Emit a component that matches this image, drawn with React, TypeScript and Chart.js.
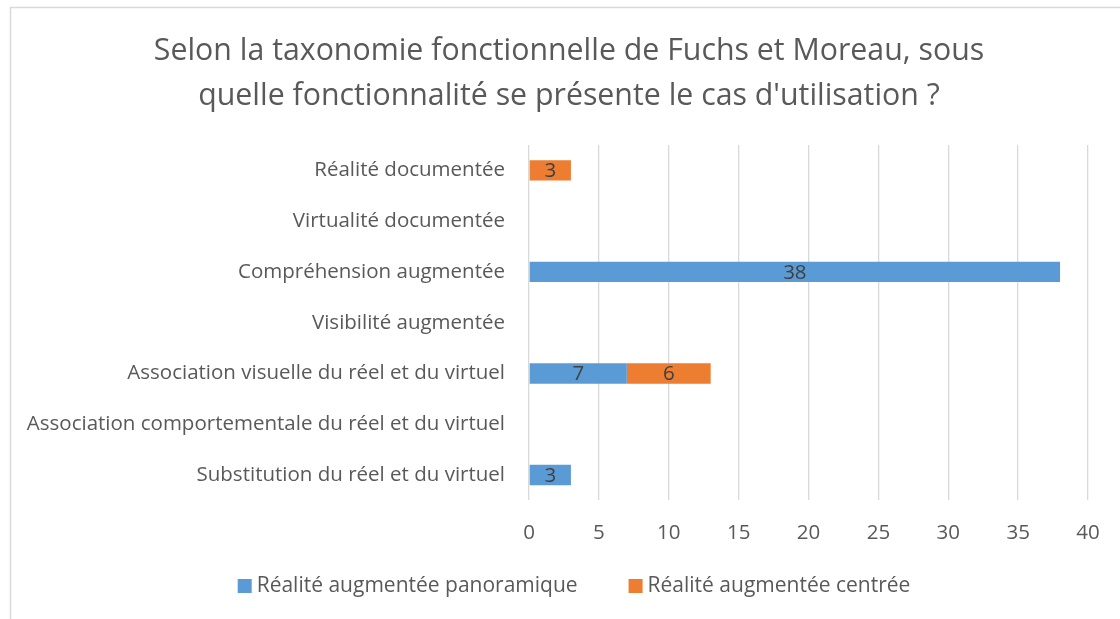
import React, { useEffect, useRef } from "react";
import { Chart, registerables } from "chart.js";

Chart.register(...registerables);

const categories = [
  "Réalité documentée",
  "Virtualité documentée",
  "Compréhension augmentée",
  "Visibilité augmentée",
  "Association visuelle du réel et du virtuel",
  "Association comportementale du réel et du virtuel",
  "Substitution du réel et du virtuel",
];
const panoramique = [0, 0, 38, 0, 7, 0, 3];
const centree = [3, 0, 0, 0, 6, 0, 0];
const seriesNames = ["Réalité augmentée panoramique", "Réalité augmentée centrée"];
const seriesColors = ["#5B9BD5", "#ED7D31"];
const titleLines = [
  "Selon la taxonomie fonctionnelle de Fuchs et Moreau, sous",
  "quelle fonctionnalité se présente le cas d'utilisation ?",
];
const xMin = 0;
const xMax = 40;
const xStep = 5;

const FONT = "'Open Sans', sans-serif";
const TEXT = "#595959";
const AXIS_SIZE = 20.5;
const LEGEND_SIZE = 21;

const framePlugin = {
  id: "frame",
  beforeDraw(chart: any) {
    const ctx = chart.ctx;
    ctx.save();
    ctx.fillStyle = "#ffffff";
    ctx.fillRect(0, 0, chart.width, chart.height);
    ctx.strokeStyle = "#d9d9d9";
    ctx.lineWidth = 1.5;
    ctx.strokeRect(10.5, 7.5, chart.width + 50, chart.height + 50);
    ctx.restore();
  },
};

const valueLabels = {
  id: "valueLabels",
  afterDatasetsDraw(chart: any) {
    const ctx = chart.ctx;
    chart.data.datasets.forEach((ds: any, i: number) => {
      const meta = chart.getDatasetMeta(i);
      meta.data.forEach((bar: any, j: number) => {
        const v = ds.data[j];
        if (!v) return;
        const p = bar.getProps(["x", "y", "base"], true);
        ctx.save();
        ctx.fillStyle = "#404040";
        ctx.font = `${AXIS_SIZE}px ${FONT}`;
        ctx.textAlign = "center";
        ctx.textBaseline = "middle";
        ctx.fillText(String(v), (p.x + p.base) / 2, p.y + 1);
        ctx.restore();
      });
    });
  },
};

const customLegend = {
  id: "customLegend",
  afterDraw(chart: any) {
    const ctx = chart.ctx;
    ctx.save();
    ctx.font = `${LEGEND_SIZE}px ${FONT}`;
    const box = 14;
    const gapText = 5;
    const gapItems = 51;
    const widths = seriesNames.map((n) => box + gapText + ctx.measureText(n).width);
    const total = widths.reduce((a, b) => a + b, 0) + gapItems * (widths.length - 1);
    let x = 574 - total / 2;
    const y = 586;
    seriesNames.forEach((n, i) => {
      ctx.fillStyle = seriesColors[i];
      ctx.fillRect(x, y - box / 2, box, box);
      ctx.fillStyle = TEXT;
      ctx.textAlign = "left";
      ctx.textBaseline = "middle";
      ctx.fillText(n, x + box + gapText, y);
      x += widths[i] + gapItems;
    });
    ctx.restore();
  },
};

export default function App() {
  const ref = useRef<HTMLCanvasElement | null>(null);
  useEffect(() => {
    document.body.style.margin = "0";
    if (!ref.current) return;
    const chart = new Chart(ref.current, {
      type: "bar",
      data: {
        labels: categories,
        datasets: [
          {
            label: seriesNames[0],
            data: panoramique,
            backgroundColor: seriesColors[0],
            barPercentage: 0.4,
            categoryPercentage: 1,
          },
          {
            label: seriesNames[1],
            data: centree,
            backgroundColor: seriesColors[1],
            barPercentage: 0.4,
            categoryPercentage: 1,
          },
        ],
      },
      options: {
        indexAxis: "y",
        animation: false,
        responsive: false,
        layout: { padding: { left: 18, right: 0, top: 0, bottom: 54 } },
        plugins: {
          legend: { display: false },
          tooltip: { enabled: false },
          title: {
            display: true,
            text: titleLines,
            color: TEXT,
            font: { family: FONT, size: 30.3, weight: "normal", lineHeight: "45px" },
            padding: { top: 29, bottom: 26 },
          },
        },
        scales: {
          x: {
            stacked: true,
            min: xMin,
            max: xMax,
            ticks: { stepSize: xStep, color: TEXT, font: { family: FONT, size: AXIS_SIZE }, padding: 20 },
            grid: { color: "#d9d9d9", lineWidth: 1.3, drawTicks: false },
            border: { display: false },
          },
          y: {
            stacked: true,
            ticks: { color: TEXT, font: { family: FONT, size: AXIS_SIZE }, padding: 24 },
            grid: { display: false, drawTicks: false },
            border: { display: false },
            afterFit(scale: any) {
              scale.width = 511;
            },
          },
          yRight: {
            type: "linear",
            position: "right",
            display: true,
            ticks: { display: false },
            grid: { display: false, drawTicks: false },
            border: { display: false },
            afterFit(scale: any) {
              scale.width = 32;
            },
          },
        },
      },
      plugins: [framePlugin, valueLabels, customLegend],
    } as any);
    return () => chart.destroy();
  }, []);
  return (
    <div style={{ position: "absolute", left: 0, top: 0, width: 1120, height: 619 }}>
      <canvas ref={ref} width={1120} height={619} style={{ display: "block" }} />
    </div>
  );
}
